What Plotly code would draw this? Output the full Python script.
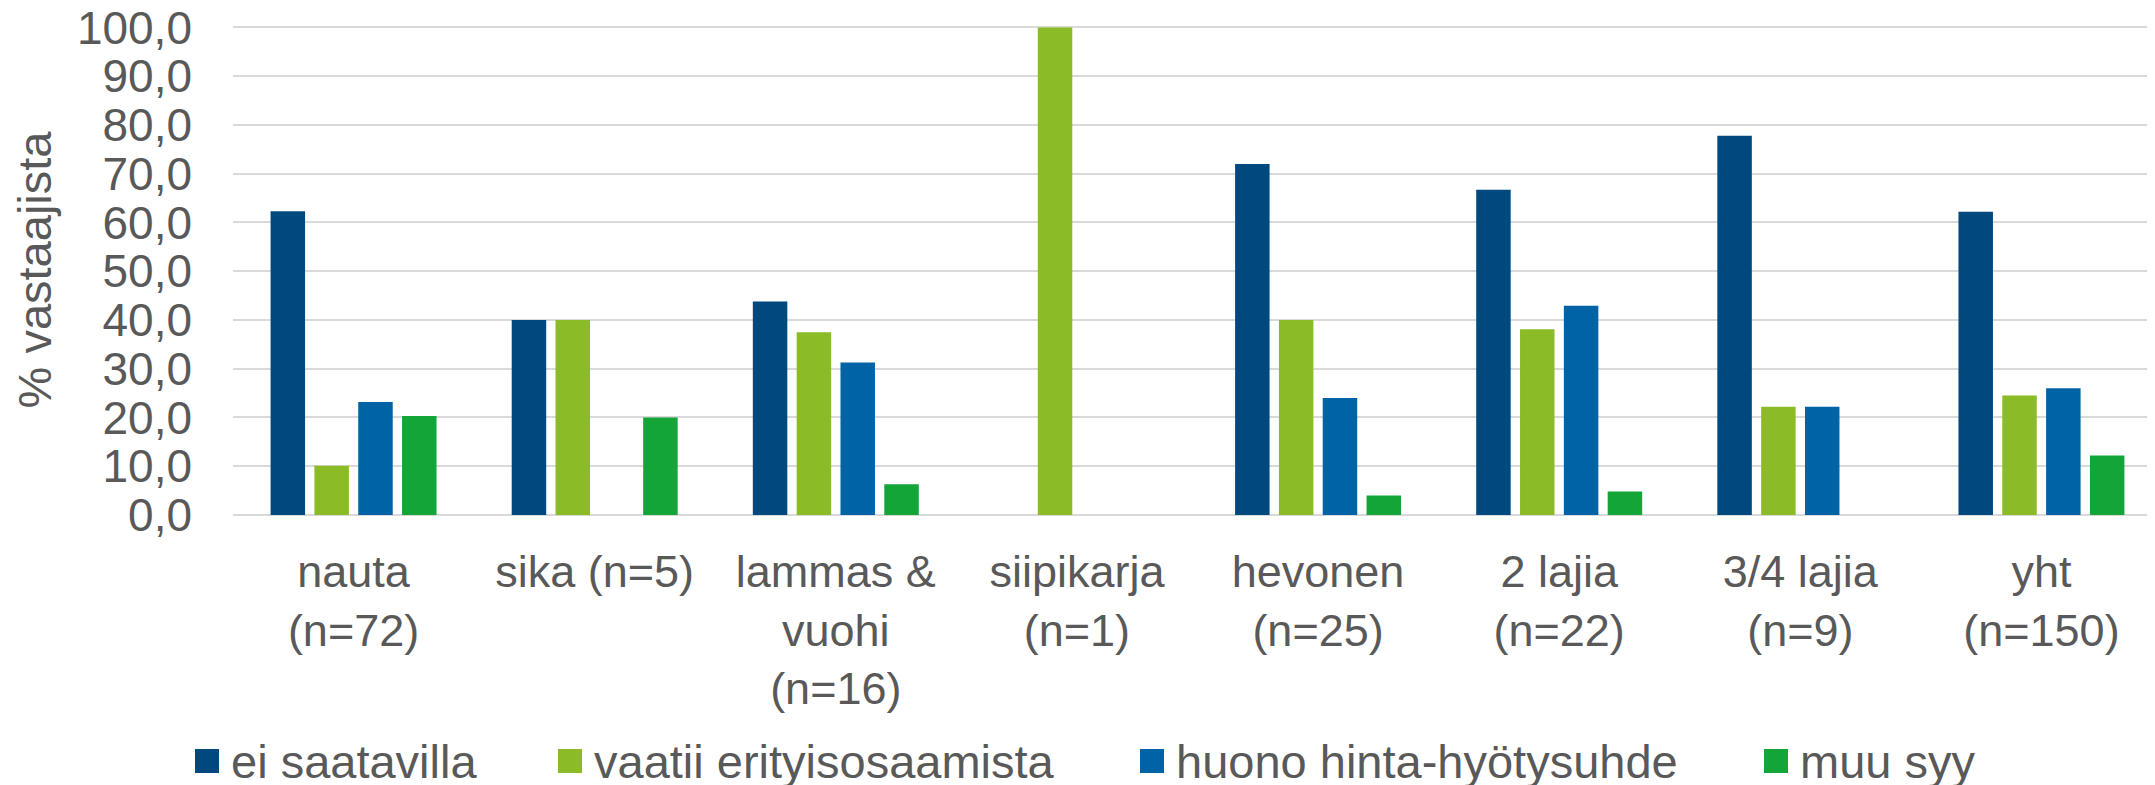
import plotly.graph_objects as go

categories = ["nauta<br>(n=72)", "sika (n=5)", "lammas &<br>vuohi<br>(n=16)", "siipikarja<br>(n=1)",
              "hevonen<br>(n=25)", "2 lajia<br>(n=22)", "3/4 lajia<br>(n=9)", "yht<br>(n=150)"]
series_names = ["ei saatavilla", "vaatii erityisosaamista", "huono hinta-hyötysuhde", "muu syy"]
ei_saatavilla = [62.3, 40.0, 43.8, 0.0, 72.0, 66.7, 77.8, 62.2]
vaatii_erityisosaamista = [10.1, 40.0, 37.5, 100.0, 40.0, 38.1, 22.2, 24.5]
huono_hinta_hyotysuhde = [23.2, 0.0, 31.3, 0.0, 24.0, 42.9, 22.2, 26.0]
muu_syy = [20.3, 20.0, 6.3, 0.0, 4.0, 4.8, 0.0, 12.2]
y_ticks = [0, 10, 20, 30, 40, 50, 60, 70, 80, 90, 100]

colors = ["#00497F", "#8BBB26", "#0063A6", "#13A538"]
values = [ei_saatavilla, vaatii_erityisosaamista, huono_hinta_hyotysuhde, muu_syy]
text_color = "#595959"
font_family = "Liberation Sans, Arial, sans-serif"

# page offset (default body margin) compensated
OFF = 8
W, H = 2155, 785
L, R, T, B = 233 - OFF, 1, 25 - OFF, 270 + OFF
pw, ph = W - L - R, H - T - B

fig = go.Figure()
for name, vals, col in zip(series_names, values, colors):
    fig.add_trace(go.Bar(x=categories, y=vals, name=name, marker=dict(color=col, line=dict(width=0)),
                         showlegend=False))

# manual legend (large square swatches like the original)
legend_sq_x = [195 - OFF, 558 - OFF, 1140 - OFF, 1764 - OFF]
sq = 24
leg_cy = 761 - OFF
shapes = []
annotations = []
for name, col, px in zip(series_names, colors, legend_sq_x):
    x0 = (px - L) / pw
    x1 = (px + sq - L) / pw
    y0 = (H - B - (leg_cy + sq / 2)) / ph
    y1 = (H - B - (leg_cy - sq / 2)) / ph
    shapes.append(dict(type="rect", xref="paper", yref="paper", x0=x0, x1=x1, y0=y0, y1=y1,
                       fillcolor=col, line=dict(width=0)))
    annotations.append(dict(xref="paper", yref="paper", x=(px + sq + 10 - L) / pw,
                            y=(H - B - leg_cy) / ph, text=name, showarrow=False,
                            xanchor="left", yanchor="middle",
                            font=dict(size=47, color=text_color, family=font_family)))

fig.update_layout(
    width=W, height=H,
    margin=dict(l=L, r=R, t=T, b=B, autoexpand=False),
    paper_bgcolor="white", plot_bgcolor="white",
    barmode="group", bargap=0.273, bargroupgap=0.213,
    separators=", ",
    font=dict(family=font_family, color=text_color, size=46),
    shapes=shapes, annotations=annotations,
    xaxis=dict(tickfont=dict(size=45, color=text_color), showgrid=False, showline=False,
               ticks="", ticklabelstandoff=26, automargin=False),
    yaxis=dict(range=[0, 100.5], tickvals=y_ticks, tickformat=".1f",
               tickfont=dict(size=46, color=text_color), ticklabeloverflow="allow",
               showgrid=True, gridcolor="#D9D9D9", gridwidth=2,
               zeroline=True, zerolinecolor="#D9D9D9", zerolinewidth=2,
               showline=False, ticks="", ticklabelstandoff=40, automargin=False,
               title=dict(text="% vastaajista", font=dict(size=47, color=text_color), standoff=12)),
)

fig.write_html("out.html")
